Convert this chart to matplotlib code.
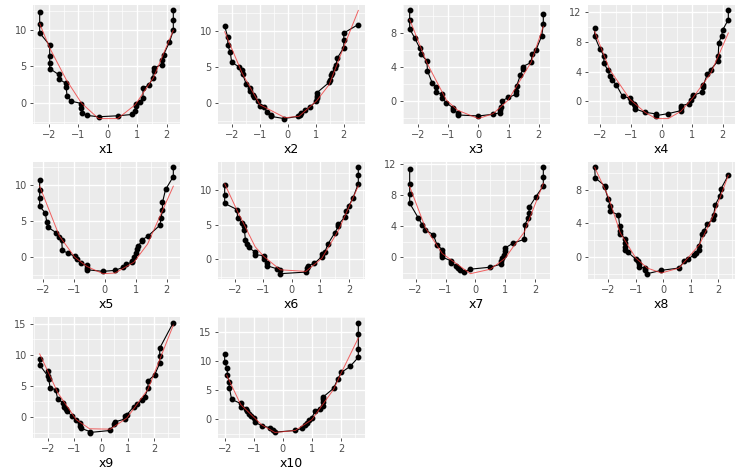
import numpy as np
import matplotlib
matplotlib.use("Agg")
import matplotlib.pyplot as plt
from matplotlib.ticker import AutoMinorLocator

# observed points (x, y) for each panel
x1 = [-2.31, -2.31, -2.31, -1.97, -1.97, -1.97, -1.97, -1.67, -1.67, -1.41, -1.41, -1.38, -1.24, -0.89, -0.89, -0.86,
      -0.70, -0.31, 0.34, 0.83, 0.94, 0.95, 0.95, 1.09, 1.20, 1.20, 1.41, 1.53, 1.56, 1.56, 1.83, 1.83, 1.90, 2.10,
      2.23, 2.23, 2.23]
y1 = [12.35, 10.8, 9.55, 7.87, 6.47, 5.47, 4.7, 3.9, 3.3, 2.67, 2.2, 0.95, 0.27, -0.05, -0.63, -1.4,
      -1.67, -1.85, -1.72, -1.54, -1.1, -0.4, -0.14, 0.14, 0.68, 2.04, 2.5, 3.44, 4.4, 4.75, 5.25, 5.8, 6.6, 8.3,
      9.9, 11.35, 12.6]
x1_fit = [-2.31, -1.97, -1.41, -0.89, -0.31, 0.34, 0.94, 1.56, 2.23]
y1_fit = [10.8, 7.5, 3.2, 0.0, -2.1, -2.1, -0.2, 3.5, 9.9]

x2 = [-2.26, -2.15, -2.15, -2.06, -2.01, -1.74, -1.64, -1.62, -1.49, -1.37, -1.34, -1.26, -1.20, -1.07, -1.00, -0.85,
      -0.75, -0.62, -0.62, -0.14, 0.38, 0.43, 0.48, 0.60, 0.79, 1.02, 1.03, 1.03, 1.03, 1.48, 1.50, 1.54, 1.58, 1.69,
      1.72, 1.77, 2.00, 2.00, 2.00, 2.52]
y2 = [10.65, 9.17, 8.0, 7.05, 5.67, 5.02, 4.56, 4.1, 2.63, 2.12, 1.66, 1.2, 0.83, 0.28, -0.32, -0.5,
      -1.24, -1.6, -1.8, -2.12, -1.8, -1.56, -1.33, -0.97, -0.5, 0.32, 0.74, 1.06, 1.43, 2.9, 3.27, 3.9, 4.15, 4.84,
      5.25, 6.27, 7.7, 8.8, 9.72, 10.9]
x2_fit = [-2.26, -1.64, -1.00, -0.10, 0.40, 1.02, 1.48, 2.00, 2.52]
y2_fit = [9.9, 4.2, -0.2, -2.0, -1.8, 0.3, 2.6, 7.8, 12.85]

x3 = [-2.28, -2.28, -2.28, -2.12, -1.94, -1.91, -1.71, -1.69, -1.53, -1.42, -1.42, -1.22, -1.22, -1.06, -0.86, -0.86,
      -0.69, -0.69, 0.00, 0.49, 0.73, 0.73, 0.75, 0.79, 0.98, 1.25, 1.25, 1.27, 1.39, 1.47, 1.47, 1.75, 1.78, 1.91,
      2.10, 2.15, 2.15]
y3 = [10.67, 9.5, 8.5, 7.47, 6.2, 5.53, 4.74, 3.56, 2.1, 1.62, 1.1, 0.8, 0.4, -0.2, -0.75, -1.0,
      -1.38, -1.62, -1.74, -1.54, -1.34, -1.06, -0.67, 0.04, 0.43, 0.8, 1.22, 1.83, 3.08, 3.76, 4.07, 4.55, 5.53, 6.05,
      7.7, 9.13, 10.28]
x3_fit = [-2.28, -1.71, -1.06, -0.69, 0.00, 0.49, 0.98, 1.75, 2.15]
y3_fit = [9.6, 4.5, 0.1, -1.07, -2.05, -1.46, 0.1, 4.6, 8.8]

x4 = [-2.18, -2.18, -2.01, -1.88, -1.88, -1.75, -1.69, -1.62, -1.48, -1.27, -1.02, -1.00, -0.90, -0.87, -0.86, -0.54,
      -0.18, -0.18, 0.22, 0.63, 0.63, 0.63, 0.89, 0.95, 1.02, 1.02, 1.31, 1.37, 1.37, 1.50, 1.61, 1.83, 1.85, 1.87,
      1.96, 2.00, 2.18, 2.18]
y4 = [9.86, 8.74, 7.08, 6.14, 5.16, 4.17, 3.45, 2.91, 2.24, 0.67, 0.4, -0.04, -0.4, -0.67, -1.03, -1.48,
      -1.7, -1.93, -1.66, -1.26, -0.9, -0.58, -0.36, 0.22, 0.67, 0.8, 1.2, 1.88, 2.2, 3.72, 4.26, 5.38, 6.14, 7.85,
      8.83, 9.64, 11.0, 12.24]
x4_fit = [-2.18, -1.69, -1.02, -0.54, -0.18, 0.22, 0.63, 1.02, 1.61, 2.18]
y4_fit = [9.4, 4.26, 0.22, -1.48, -2.33, -2.33, -1.35, 0.45, 3.8, 9.2]

x5 = [-2.10, -2.10, -2.10, -2.10, -1.92, -1.87, -1.82, -1.57, -1.47, -1.39, -1.37, -1.19, -0.97, -0.90, -0.77, -0.58,
      -0.58, -0.58, -0.06, 0.33, 0.58, 0.69, 0.89, 0.89, 0.94, 1.00, 1.03, 1.08, 1.19, 1.19, 1.38, 1.78, 1.81, 1.86,
      1.86, 1.96, 2.21, 2.21]
y5 = [10.73, 9.36, 8.26, 7.06, 6.15, 4.86, 4.13, 3.4, 2.84, 2.43, 0.96, 0.55, 0.14, -0.28, -0.83, -1.15,
      -1.51, -1.74, -1.97, -1.83, -1.42, -0.92, -0.73, -0.46, 0.0, 0.6, 1.15, 1.6, 2.2, 2.38, 2.89, 4.45, 5.41, 6.51,
      7.6, 9.4, 11.2, 12.48]
x5_fit = [-2.10, -1.47, -0.97, -0.58, -0.06, 0.33, 0.94, 1.38, 2.21]
y5_fit = [9.86, 2.98, 0.0, -1.28, -2.29, -2.2, -0.69, 1.83, 9.86]

x6 = [-2.36, -2.36, -2.36, -1.92, -1.91, -1.75, -1.67, -1.67, -1.63, -1.57, -1.52, -1.29, -1.29, -0.98, -0.97, -0.86,
      -0.86, -0.53, -0.41, -0.41, 0.49, 0.52, 0.58, 0.79, 1.05, 1.05, 1.16, 1.26, 1.50, 1.63, 1.63, 1.87, 1.90, 2.00,
      2.14, 2.33, 2.33, 2.33]
y6 = [10.66, 9.24, 8.06, 7.16, 5.92, 5.3, 4.74, 4.27, 2.75, 2.27, 1.7, 1.04, 0.66, 0.52, 0.0, -0.57,
      -0.95, -1.37, -1.61, -2.08, -1.85, -1.28, -0.9, -0.57, 0.38, 0.71, 1.09, 2.18, 3.79, 4.74, 5.02, 6.16, 7.0, 7.73,
      8.82, 10.9, 12.13, 13.27]
x6_fit = [-2.36, -1.92, -1.29, -0.98, -0.41, 0.49, 1.05, 1.63, 2.33]
y6_fit = [10.9, 7.0, 1.8, 0.38, -1.52, -1.75, 0.14, 4.17, 10.57]

x7 = [-2.20, -2.20, -2.20, -2.20, -1.92, -1.78, -1.68, -1.41, -1.29, -1.11, -1.11, -1.11, -1.11, -0.83, -0.83, -0.65,
      -0.60, -0.52, -0.39, -0.17, 0.50, 0.84, 0.87, 0.89, 0.94, 0.99, 1.00, 1.26, 1.63, 1.65, 1.76, 1.79, 1.80, 2.02,
      2.27, 2.27, 2.27]
y7 = [11.37, 9.52, 8.17, 6.99, 5.14, 4.21, 3.54, 2.95, 1.64, 1.01, 0.59, 0.25, 0.04, -0.42, -0.76, -1.05,
      -1.39, -1.6, -1.85, -1.52, -1.26, -0.88, -0.46, -0.13, 0.25, 0.8, 1.22, 1.85, 2.32, 4.21, 5.05, 5.73, 6.48, 7.83,
      9.22, 10.36, 11.62]
x7_fit = [-2.20, -1.68, -1.11, -0.17, 0.50, 0.99, 1.26, 1.63, 2.27]
y7_fit = [9.14, 3.87, 0.5, -2.1, -1.52, -0.13, 1.35, 3.24, 9.56]

x8 = [-2.49, -2.47, -2.13, -2.13, -2.00, -1.93, -1.92, -1.63, -1.58, -1.58, -1.56, -1.38, -1.38, -1.38, -1.38, -1.28,
      -1.00, -0.91, -0.89, -0.88, -0.65, -0.65, -0.58, -0.07, 0.57, 0.76, 0.90, 1.13, 1.19, 1.31, 1.31, 1.39, 1.48,
      1.60, 1.82, 1.83, 1.89, 2.06, 2.09, 2.36]
y8 = [10.65, 9.39, 8.48, 8.3, 6.89, 6.02, 5.43, 4.99, 3.64, 3.05, 2.77, 2.14, 1.66, 1.15, 0.79, 0.55,
      -0.24, -0.48, -0.83, -1.19, -1.31, -1.58, -1.98, -1.58, -1.31, -0.51, -0.24, 0.28, 0.48, 0.87, 1.35, 2.77, 3.13,
      3.96, 4.51, 5.03, 6.22, 7.29, 8.08, 9.7]
x8_fit = [-2.49, -2.00, -1.56, -1.00, -0.58, -0.07, 0.57, 1.31, 1.83, 2.36]
y8_fit = [10.65, 7.2, 2.85, -0.12, -1.31, -1.9, -1.31, 1.46, 5.03, 9.7]

x9 = [-2.30, -2.30, -1.97, -2.00, -1.96, -1.91, -1.70, -1.62, -1.41, -1.38, -1.33, -1.28, -1.10, -0.93, -0.80, -0.78,
      -0.76, -0.43, -0.43, 0.35, 0.49, 0.54, 0.90, 0.90, 0.97, 1.22, 1.35, 1.54, 1.64, 1.76, 1.76, 2.01, 2.20, 2.20,
      2.20, 2.71]
y9 = [9.35, 8.37, 7.45, 6.63, 6.09, 4.73, 4.35, 2.83, 2.28, 1.63, 1.3, 0.92, 0.22, -0.43, -0.98, -1.41,
      -1.79, -2.34, -2.5, -2.17, -1.09, -0.76, -0.33, 0.1, 0.38, 1.63, 2.12, 2.66, 3.26, 4.62, 5.82, 6.79, 8.64, 9.89,
      11.09, 15.22]
x9_fit = [-2.30, -1.62, -0.93, -0.43, 0.35, 0.97, 1.76, 2.71]
y9_fit = [10.16, 3.9, -0.43, -1.9, -1.96, -0.16, 4.46, 14.8]

x10 = [-2.00, -2.00, -1.91, -1.91, -1.85, -1.84, -1.76, -1.45, -1.45, -1.28, -1.22, -1.15, -1.11, -0.98, -0.94,
       -0.73, -0.43, -0.33, -0.27, 0.43, 0.66, 0.77, 0.83, 0.89, 1.00, 1.11, 1.29, 1.40, 1.40, 1.40, 1.40, 1.75, 1.90,
       2.02, 2.32, 2.60, 2.60, 2.60, 2.60]
y10 = [11.23, 9.79, 8.74, 7.64, 6.43, 5.44, 3.42, 2.72, 2.14, 1.85, 1.39, 0.98, 0.52, 0.23, -0.52,
       -1.1, -1.45, -1.91, -2.2, -1.91, -1.56, -1.04, -0.64, -0.06, 0.23, 1.5, 1.85, 2.26, 3.01, 3.42, 3.88, 5.33, 7.0,
       8.05, 9.09, 10.65, 12.1, 14.71, 16.62]
x10_fit = [-1.93, -1.45, -0.73, -0.27, 0.43, 1.00, 1.75, 2.02, 2.60]
y10_fit = [7.58, 2.55, -0.93, -2.26, -1.91, -0.06, 5.15, 8.05, 13.96]

names = ["x1", "x2", "x3", "x4", "x5", "x6", "x7", "x8", "x9", "x10"]
y_ticks = [[0, 5, 10], [0, 5, 10], [0, 4, 8], [0, 4, 8, 12], [0, 5, 10],
           [0, 5, 10], [0, 4, 8, 12], [0, 4, 8], [0, 5, 10, 15], [0, 5, 10, 15]]
x_ticks = [-2, -1, 0, 1, 2]

panels = [(x1, y1, x1_fit, y1_fit), (x2, y2, x2_fit, y2_fit), (x3, y3, x3_fit, y3_fit),
          (x4, y4, x4_fit, y4_fit), (x5, y5, x5_fit, y5_fit), (x6, y6, x6_fit, y6_fit),
          (x7, y7, x7_fit, y7_fit), (x8, y8, x8_fit, y8_fit), (x9, y9, x9_fit, y9_fit),
          (x10, y10, x10_fit, y10_fit)]

W, H = 741, 470
fig = plt.figure(figsize=(W / 100, H / 100), dpi=100)

col_left = [33, 218, 403, 588]
pw = 147
rows = [(5, 124), (162, 279), (317, 438)]

for k, (px, py, fx, fy) in enumerate(panels):
    r, c = divmod(k, 4)
    top, bot = rows[r]
    ax = fig.add_axes([col_left[c] / W, (H - bot) / H, pw / W, (bot - top) / H])
    ax.set_facecolor("#EBEBEB")
    for s in ax.spines.values():
        s.set_visible(False)
    ax.set_axisbelow(True)

    order = np.argsort(px, kind="stable")
    ax.plot(np.array(px)[order], np.array(py)[order], color="black", lw=0.8,
            marker="o", ms=3.2, zorder=3)
    ax.plot(fx, fy, color="#F03030", lw=0.7, alpha=0.75, zorder=4)

    ax.set_xticks(x_ticks)
    ax.set_yticks(y_ticks[k])
    ax.margins(0.05)
    ax.xaxis.set_minor_locator(AutoMinorLocator(2))
    ax.yaxis.set_minor_locator(AutoMinorLocator(2))
    ax.grid(which="major", color="white", lw=1.0)
    ax.grid(which="minor", color="white", lw=0.5)
    ax.tick_params(which="major", length=2.5, width=0.6, color="#333333",
                   labelsize=7, labelcolor="#4D4D4D", pad=2)
    ax.tick_params(which="minor", length=0)
    ax.set_xlabel(names[k], fontsize=9, color="black", labelpad=2)

fig.savefig("out.png", dpi=100)
